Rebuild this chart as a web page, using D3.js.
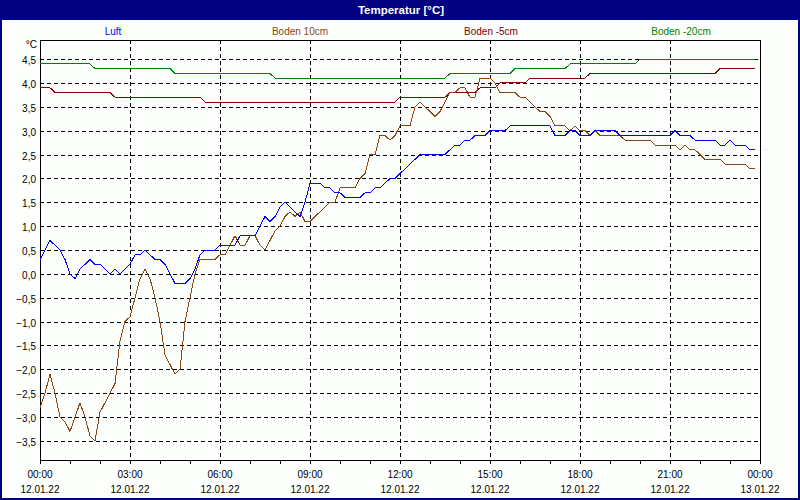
<!DOCTYPE html>
<html><head><meta charset="utf-8">
<script src="https://cdn.jsdelivr.net/npm/d3@7"></script>
<style>
body{margin:0;background:#fff}
svg{display:block}
text{font-family:"Liberation Sans",Arial,sans-serif}
</style>
</head><body><svg id="c" width="800" height="500"></svg>
<script>
// ---- data (10-minute readings, 12.01.22 00:00 .. 23:50) ----
const title = "Temperatur [°C]";
const unitLabel = "°C";
const seriesNames = ["Luft", "Boden 10cm", "Boden -5cm", "Boden -20cm"];
const seriesColors = ["#0000ff", "#8b4513", "#800000", "#008000"];
const stepMinutes = 10;

const luft = [
 0.3,0.5,0.7,0.6,0.5,0.3,0.0,-0.1,0.1,0.2,0.3,0.2,
 0.2,0.1,0.0,0.1,0.0,0.1,0.2,0.4,0.4,0.5,0.4,0.3,
 0.3,0.2,0.0,-0.2,-0.2,-0.2,-0.1,0.1,0.4,0.5,0.5,0.5,
 0.6,0.6,0.6,0.6,0.8,0.8,0.8,0.8,1.0,1.2,1.1,1.2,
 1.4,1.5,1.4,1.3,1.2,1.5,1.9,1.9,1.9,1.8,1.8,1.7,
 1.7,1.6,1.6,1.6,1.6,1.7,1.7,1.8,1.8,1.9,2.0,2.0,
 2.1,2.2,2.3,2.4,2.5,2.5,2.5,2.5,2.5,2.5,2.6,2.7,
 2.7,2.8,2.8,2.9,2.9,2.9,3.0,3.0,3.0,3.0,3.1,3.1,
 3.1,3.1,3.1,3.1,3.1,3.1,3.1,2.9,2.9,2.9,3.0,3.0,
 2.9,2.9,2.9,3.0,3.0,3.0,3.0,3.0,2.9,2.9,2.9,2.9,
 2.9,2.9,2.9,2.9,2.9,2.9,2.9,3.0,2.9,2.9,2.9,2.8,
 2.8,2.8,2.8,2.8,2.7,2.7,2.8,2.7,2.7,2.7,2.6,2.6
];
const boden10 = [
 -2.8,-2.5,-2.1,-2.5,-3.0,-3.1,-3.3,-3.0,-2.7,-3.0,-3.4,-3.5,
 -2.9,-2.7,-2.5,-2.3,-1.4,-1.0,-0.9,-0.5,-0.1,0.1,-0.1,-0.5,
 -1.0,-1.7,-1.9,-2.1,-2.0,-1.0,-0.5,0.0,0.3,0.3,0.3,0.3,
 0.4,0.4,0.6,0.8,0.6,0.6,0.8,0.8,0.6,0.5,0.7,0.9,
 1.0,1.2,1.3,1.2,1.3,1.1,1.1,1.2,1.3,1.4,1.5,1.5,
 1.8,1.8,1.8,1.8,2.0,2.1,2.5,2.5,2.9,2.9,2.8,2.9,
 3.1,3.1,3.1,3.5,3.6,3.5,3.4,3.3,3.4,3.6,3.8,3.8,
 3.9,3.9,3.7,3.7,4.1,4.1,4.1,4.0,3.8,3.8,3.8,3.8,
 3.7,3.7,3.6,3.5,3.4,3.4,3.3,3.1,3.1,3.1,3.0,3.1,
 3.0,3.0,2.9,3.0,2.9,2.9,2.9,2.9,2.9,2.8,2.8,2.8,
 2.8,2.8,2.8,2.7,2.7,2.7,2.7,2.7,2.6,2.7,2.6,2.6,
 2.5,2.4,2.4,2.4,2.4,2.3,2.3,2.3,2.3,2.3,2.2,2.2
];
const boden5 = [
 3.9,3.9,3.9,3.8,3.8,3.8,3.8,3.8,3.8,3.8,3.8,3.8,
 3.8,3.8,3.8,3.7,3.7,3.7,3.7,3.7,3.7,3.7,3.7,3.7,
 3.7,3.7,3.7,3.7,3.7,3.7,3.7,3.7,3.7,3.6,3.6,3.6,
 3.6,3.6,3.6,3.6,3.6,3.6,3.6,3.6,3.6,3.6,3.6,3.6,
 3.6,3.6,3.6,3.6,3.6,3.6,3.6,3.6,3.6,3.6,3.6,3.6,
 3.6,3.6,3.6,3.6,3.6,3.6,3.6,3.6,3.6,3.6,3.6,3.6,
 3.7,3.7,3.7,3.7,3.7,3.7,3.7,3.7,3.7,3.7,3.8,3.8,
 3.8,3.8,3.8,3.8,3.9,3.9,3.9,3.9,4.0,4.0,4.0,4.0,
 4.0,4.0,4.1,4.1,4.1,4.1,4.1,4.1,4.1,4.1,4.1,4.1,
 4.1,4.1,4.2,4.2,4.2,4.2,4.2,4.2,4.2,4.2,4.2,4.2,
 4.2,4.2,4.2,4.2,4.2,4.2,4.2,4.2,4.2,4.2,4.2,4.2,
 4.2,4.2,4.2,4.2,4.3,4.3,4.3,4.3,4.3,4.3,4.3,4.3
];
const boden20 = [
 4.4,4.4,4.4,4.4,4.4,4.4,4.4,4.4,4.4,4.4,4.4,4.3,
 4.3,4.3,4.3,4.3,4.3,4.3,4.3,4.3,4.3,4.3,4.3,4.3,
 4.3,4.3,4.3,4.2,4.2,4.2,4.2,4.2,4.2,4.2,4.2,4.2,
 4.2,4.2,4.2,4.2,4.2,4.2,4.2,4.2,4.2,4.2,4.2,4.1,
 4.1,4.1,4.1,4.1,4.1,4.1,4.1,4.1,4.1,4.1,4.1,4.1,
 4.1,4.1,4.1,4.1,4.1,4.1,4.1,4.1,4.1,4.1,4.1,4.1,
 4.1,4.1,4.1,4.1,4.1,4.1,4.1,4.1,4.1,4.1,4.2,4.2,
 4.2,4.2,4.2,4.2,4.2,4.2,4.2,4.2,4.2,4.2,4.2,4.3,
 4.3,4.3,4.3,4.3,4.3,4.3,4.3,4.3,4.3,4.3,4.4,4.4,
 4.4,4.4,4.4,4.4,4.4,4.4,4.4,4.4,4.4,4.4,4.4,4.4,
 4.5,4.5,4.5,4.5,4.5,4.5,4.5,4.5,4.5,4.5,4.5,4.5,
 4.5,4.5,4.5,4.5,4.5,4.5,4.5,4.5,4.5,4.5,4.5,4.5
];
const yTicks = [-3.5,-3,-2.5,-2,-1.5,-1,-0.5,0,0.5,1,1.5,2,2.5,3,3.5,4,4.5];
const xTickTimes = ["00:00","03:00","06:00","09:00","12:00","15:00","18:00","21:00","00:00"];
const xTickDates = ["12.01.22","12.01.22","12.01.22","12.01.22","12.01.22","12.01.22","12.01.22","12.01.22","13.01.22"];

// ---- layout ----
const W = 800, H = 500;
const L = 40, R = 760, T = 40, B = 460;
const navy = "#000080";
const legendX = [113, 300, 491, 681];

const svg = d3.select("#c");
const x = d3.scaleLinear().domain([0, 1440]).range([L, R]);
const y = d3.scaleLinear().domain([-3.9, 4.9]).range([B, T]);

svg.append("rect").attr("width", W).attr("height", H).attr("fill", "#fdfffd");

// title bar + border
svg.append("rect").attr("x", 0).attr("y", 0).attr("width", W).attr("height", 20).attr("fill", navy);
svg.append("rect").attr("x", 1).attr("y", 1).attr("width", W - 2).attr("height", H - 2)
  .attr("fill", "none").attr("stroke", navy).attr("stroke-width", 2);
svg.append("text").attr("x", 401).attr("y", 14).attr("text-anchor", "middle")
  .attr("fill", "#fff").attr("font-weight", "bold").attr("font-size", "11.5px").text(title);

// legend
svg.append("g").selectAll("text").data(seriesNames).join("text")
  .attr("x", (d, i) => legendX[i]).attr("y", 35).attr("text-anchor", "middle")
  .attr("font-size", "10px").attr("fill", (d, i) => seriesColors[i]).text(d => d);

// unit label
svg.append("text").attr("x", 37).attr("y", 48).attr("text-anchor", "end")
  .attr("font-size", "10px").attr("fill", "#000").text(unitLabel);

// horizontal grid + y labels
const gy = svg.append("g");
yTicks.forEach(v => {
  const yy = Math.round(y(v)) + 0.5;
  gy.append("line").attr("x1", L).attr("x2", R).attr("y1", yy).attr("y2", yy)
    .attr("stroke", "#000").attr("stroke-dasharray", "4,3").attr("shape-rendering", "crispEdges");
  gy.append("text").attr("x", 36).attr("y", yy + 4).attr("text-anchor", "end")
    .attr("font-size", "10px").attr("fill", "#000")
    .text(d3.format(".1f")(v).replace(".", ","));
});

// vertical grid
const gx = svg.append("g");
xTickTimes.forEach((t, i) => {
  if (i === 0 || i === xTickTimes.length - 1) return;
  const xx = Math.round(x(i * 180)) + 0.5;
  gx.append("line").attr("x1", xx).attr("x2", xx).attr("y1", T).attr("y2", B)
    .attr("stroke", "#000").attr("stroke-dasharray", "4,3").attr("shape-rendering", "crispEdges");
});

// frame
const fr = svg.append("g").attr("stroke", "#000").attr("shape-rendering", "crispEdges");
fr.append("line").attr("x1", L + 0.5).attr("x2", R + 0.5).attr("y1", T + 0.5).attr("y2", T + 0.5);
fr.append("line").attr("x1", L + 0.5).attr("x2", L + 0.5).attr("y1", T).attr("y2", B);
fr.append("line").attr("x1", R + 0.5).attr("x2", R + 0.5).attr("y1", T).attr("y2", B);

// x axis
const hours = d3.range(0, 1441, 60);
const ax = svg.append("g").attr("transform", `translate(0,${B})`)
  .call(d3.axisBottom(x).tickValues(hours).tickSize(4).tickSizeOuter(0).tickFormat(""));
ax.selectAll("path,line").attr("stroke", "#000").attr("shape-rendering", "crispEdges");

const xl = svg.append("g").attr("font-size", "10px").attr("fill", "#000").attr("text-anchor", "middle");
xTickTimes.forEach((t, i) => {
  const xx = x(i * 180);
  xl.append("text").attr("x", xx).attr("y", 478).text(t);
  xl.append("text").attr("x", xx).attr("y", 493).text(xTickDates[i]);
});

// series lines (drawn back to front: ground temps first)
const allSeries = [luft, boden10, boden5, boden20];
const line = d3.line().x((d, i) => x(i * stepMinutes)).y(d => y(d));
const order = [3, 2, 1, 0];
order.forEach(k => {
  svg.append("path").datum(allSeries[k]).attr("d", line)
    .attr("fill", "none").attr("stroke", seriesColors[k]).attr("stroke-width", 1)
    .attr("shape-rendering", "crispEdges");
});
</script>
</body></html>
